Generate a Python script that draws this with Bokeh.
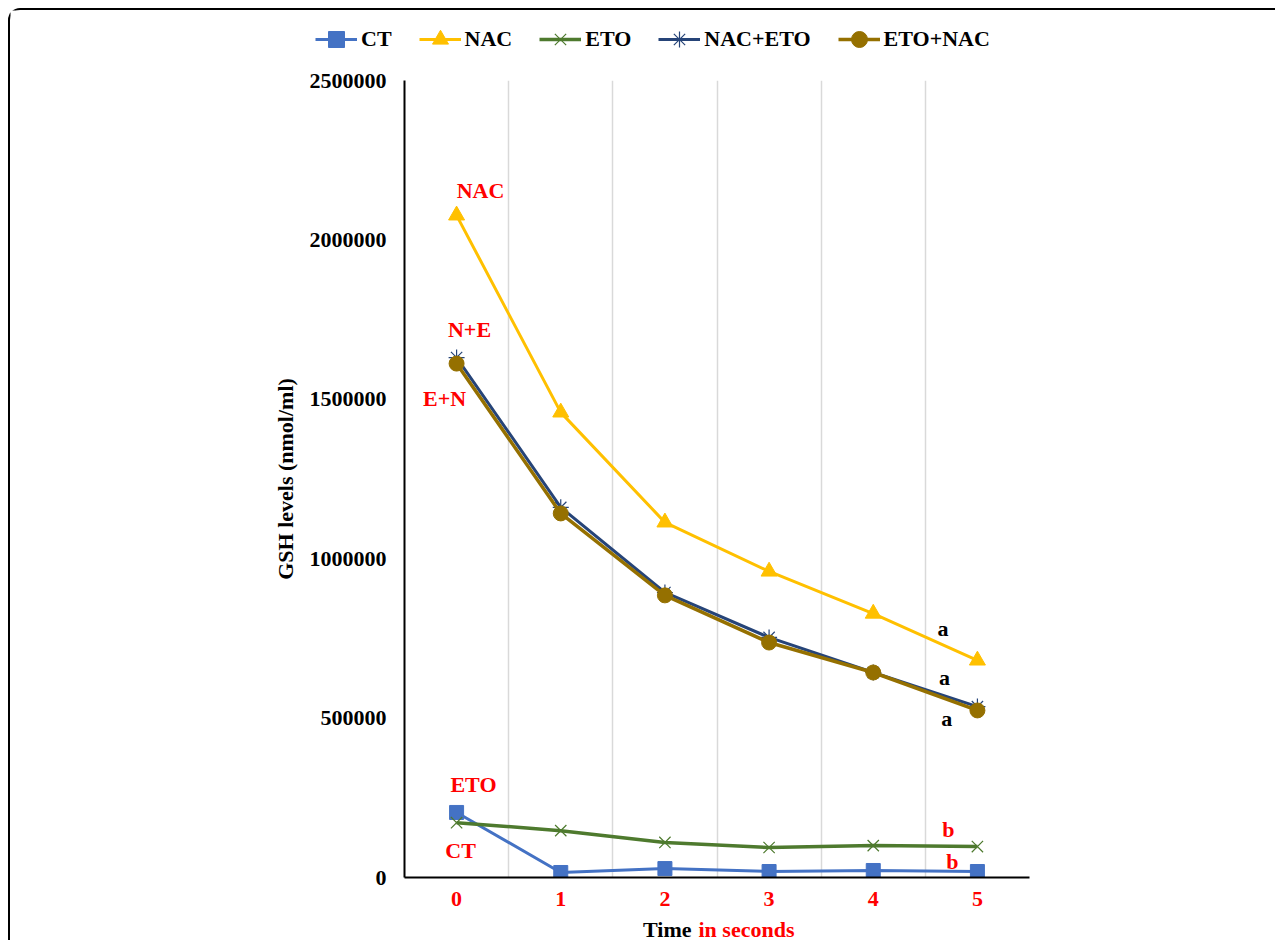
from bokeh.plotting import figure
from bokeh.layouts import column
from bokeh.models import Range1d, FixedTicker, Legend, LegendItem, ColumnDataSource
from bokeh.core.properties import value
from bokeh.embed import file_html
from bokeh.resources import INLINE

# ---- data ----
time_s = [0, 1, 2, 3, 4, 5]
ct = [204000, 15700, 28000, 18800, 22000, 18800]
nac = [2077000, 1459000, 1114000, 960000, 828000, 681000]
eto = [172000, 147000, 110000, 94000, 100000, 97000]
nac_eto = [1631000, 1161000, 894000, 753000, 643000, 536000]
eto_nac = [1612000, 1142000, 885000, 737000, 643000, 524000]
y_ticks = [0, 500000, 1000000, 1500000, 2000000, 2500000]
x_tick_labels = ["0", "1", "2", "3", "4", "5"]

ann_text = ["NAC", "N+E", "E+N", "ETO", "CT", "a", "a", "a", "b", "b"]
ann_x = [0.23, 0.124, -0.116, 0.162, 0.038, 4.67, 4.685, 4.705, 4.722, 4.76]
ann_y = [2155000, 1719000, 1502500, 291700, 84700, 781000, 627400, 498700, 150600, 50200]
ann_color = ["#FF0000"] * 5 + ["#000000"] * 3 + ["#FF0000"] * 2

x_title_parts = ["Time", "in seconds"]
x_title_colors = ["#000000", "#FF0000"]

FONT = "Liberation Serif"
FS = "22px"

series = [
    ("CT", ct, "#4472C4", "square", 14, 3),
    ("NAC", nac, "#FFC000", "triangle", 16, 3),
    ("ETO", eto, "#4E7A2E", "x", 16, 3.5),
    ("NAC+ETO", nac_eto, "#264478", "asterisk", 16, 3),
    ("ETO+NAC", eto_nac, "#957000", "circle", 15, 3.5),
]


def add_series(fig, vals, col, mk, sz, lw):
    src = ColumnDataSource(dict(x=time_s, y=vals))
    l = fig.line("x", "y", source=src, line_color=col, line_width=lw)
    if mk in ("x", "asterisk"):
        s = fig.scatter("x", "y", source=src, marker=mk, size=sz, line_color=col, line_width=1.2)
    else:
        s = fig.scatter("x", "y", source=src, marker=mk, size=sz, fill_color=col, line_color=col)
    return l, s


def strip(height, xr, yr):
    f = figure(width=1265, height=height, output_backend="svg", toolbar_location=None,
               x_range=xr, y_range=yr, x_axis_type=None, y_axis_type=None,
               min_border_left=0, min_border_right=0, min_border_top=0, min_border_bottom=0)
    f.frame_align = False
    f.outline_line_color = None
    f.xgrid.visible = False
    f.ygrid.visible = False
    f.background_fill_color = "white"
    f.border_fill_color = "white"
    return f


# ---- legend strip (top) ----
top = strip(50, Range1d(-0.5, 5.5), Range1d(-2.0, -1.0))
items = []
for name, vals, col, mk, sz, lw in series:
    l, s = add_series(top, vals, col, mk, sz, lw)
    items.append(LegendItem(label=name, renderers=[l, s]))
legend = Legend(items=items, orientation="horizontal", location=(305, 1),
                glyph_width=42, glyph_height=40, label_height=40, label_standoff=4,
                spacing=27, padding=0, margin=0,
                label_text_font=FONT, label_text_font_style="bold",
                label_text_font_size=FS, label_text_color="black",
                border_line_color=None, background_fill_alpha=0)
top.add_layout(legend, "center")

# ---- main chart ----
p = figure(width=1265, height=856, output_backend="svg", toolbar_location=None,
           x_range=Range1d(-0.5, 5.5), y_range=Range1d(0, 2500000),
           min_border_left=394, min_border_right=246, min_border_top=20, min_border_bottom=39)
p.frame_align = False
p.outline_line_color = None
p.background_fill_color = "white"
p.border_fill_color = "white"

p.ygrid.grid_line_color = None
p.xgrid.ticker = FixedTicker(ticks=[t + 0.5 for t in time_s])
p.xgrid.grid_line_color = "#D9D9D9"
p.xgrid.grid_line_width = 1.5

p.xaxis.ticker = FixedTicker(ticks=time_s)
p.xaxis.major_label_overrides = {t: l for t, l in zip(time_s, x_tick_labels)}
p.yaxis.ticker = FixedTicker(ticks=y_ticks)
p.yaxis.major_label_overrides = {t: str(t) for t in y_ticks}
for ax in (p.xaxis, p.yaxis):
    ax.axis_line_color = "black"
    ax.axis_line_width = 2
    ax.major_tick_line_color = None
    ax.minor_tick_line_color = None
    ax.major_tick_out = 0
    ax.major_tick_in = 0
    ax.minor_tick_out = 0
    ax.major_label_text_font = FONT
    ax.major_label_text_font_style = "bold"
    ax.major_label_text_font_size = FS
p.xaxis.major_label_text_color = "#FF0000"
p.yaxis.major_label_text_color = "black"
p.xaxis.major_label_standoff = 14
p.yaxis.major_label_standoff = 18
p.yaxis.axis_label = "GSH levels (nmol/ml)"
p.yaxis.axis_label_text_font = FONT
p.yaxis.axis_label_text_font_style = "bold"
p.yaxis.axis_label_text_font_size = FS
p.yaxis.axis_label_text_color = "black"
p.yaxis.axis_label_standoff = 9

for name, vals, col, mk, sz, lw in series:
    add_series(p, vals, col, mk, sz, lw)

ann_src = ColumnDataSource(dict(x=ann_x, y=ann_y, t=ann_text, c=ann_color))
p.text("x", "y", text="t", source=ann_src, text_color="c", text_align="center",
       text_baseline="middle", text_font=value(FONT), text_font_style="bold",
       text_font_size=FS)

# ---- x-axis title strip (bottom), two colours ----
bottom = strip(24, Range1d(0, 1265), Range1d(0, 24))
bottom.text(x=[681, 688], y=[11, 11], text=x_title_parts, text_color=x_title_colors,
            text_align=["right", "left"], text_baseline="middle",
            text_font=value(FONT), text_font_style="bold", text_font_size=FS)

page = column(top, p, bottom, spacing=0)
page.styles = {"margin-left": "8px", "margin-top": "8px",
               "border-left": "2px solid #000", "border-top": "2px solid #000",
               "border-top-left-radius": "12px"}

open("out.html", "w").write(file_html(page, INLINE))
